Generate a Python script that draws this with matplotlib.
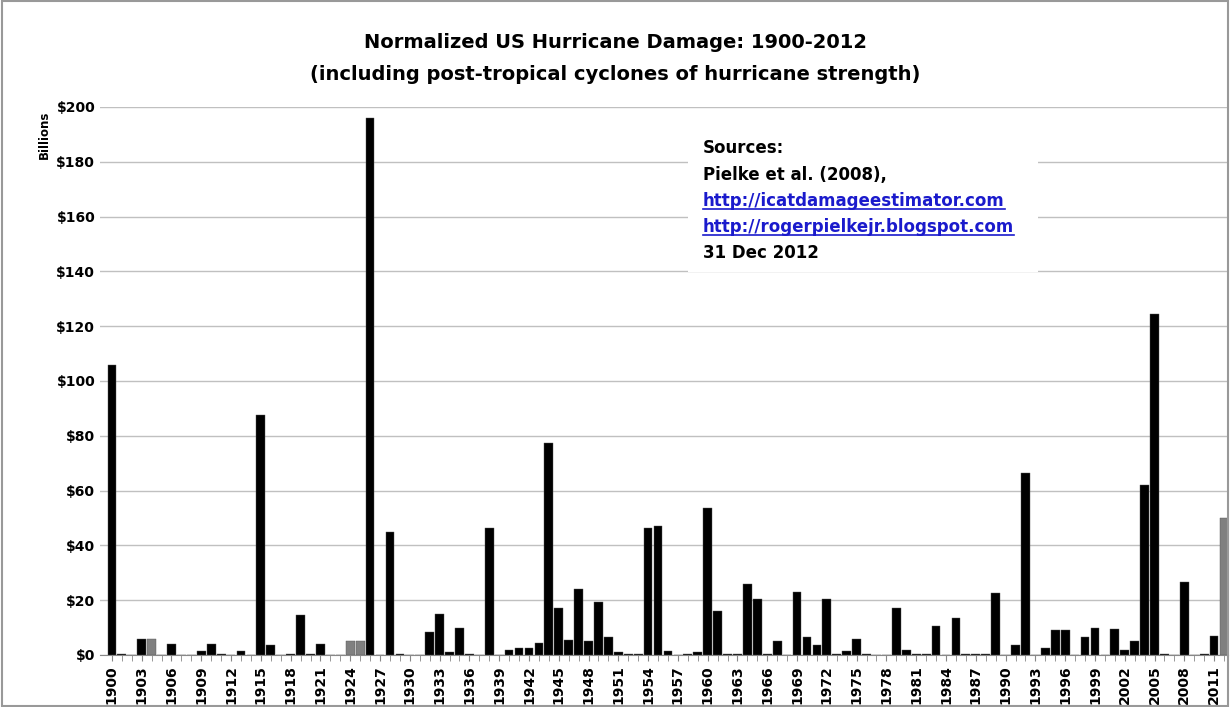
import matplotlib
matplotlib.use("Agg")
import matplotlib.pyplot as plt
import numpy as np

years = list(range(1900, 2013))
damage = [106, 0.5, 0, 6, 5.7, 0, 4, 0, 0, 1.5,
          4, 0.3, 0, 1.5, 0, 87.5, 3.5, 0, 0.5, 14.5,
          0.5, 4, 0, 0, 5, 5, 196, 0, 45, 0.3,
          0, 0, 8.5, 15, 1, 10, 0.5, 0, 46.5, 0,
          2, 2.5, 2.5, 4.5, 77.5, 17, 5.5, 24, 5, 19.5,
          6.5, 1, 0.2, 0.2, 46.5, 47, 1.5, 0, 0.5, 1,
          53.5, 16, 0.2, 0.2, 26, 20.5, 0.5, 5, 0, 23,
          6.5, 3.5, 20.5, 0.3, 1.5, 6, 0.3, 0, 0, 17,
          2, 0.2, 0.2, 10.5, 0, 13.5, 0.2, 0.2, 0.2, 22.5,
          0, 3.5, 66.5, 0, 2.7, 9, 9.2, 0, 6.5, 10,
          0, 9.5, 2, 5, 62, 124.5, 0.3, 0, 26.5, 0,
          0.3, 7, 50]
gray_years = [1904, 1924, 1925, 2012]
yticks = list(range(0, 201, 20))

colors = ['#808080' if y in gray_years else 'black' for y in years]
fig = plt.figure(figsize=(12.3, 7.07), dpi=100)
fig.patches.append(plt.Rectangle((0.002, 0.002), 0.996, 0.996, transform=fig.transFigure,
                                 fill=False, edgecolor='#999999', lw=1.5))
ax = fig.add_axes([100/1230, 52/707, 1128/1230, 548/707])
x = np.arange(len(years))
ax.bar(x, damage, width=0.88, color=colors, edgecolor='#555555', linewidth=0.3, zorder=3)
ax.set_xlim(-1.2, len(years) - 0.6)
ax.set_ylim(0, 200)
ax.set_yticks(yticks)
ax.set_yticklabels([f"${v}" for v in yticks], fontsize=10, fontweight='bold')
ax.set_xticks(x[::3])
ax.set_xticks(x, minor=True)
ax.set_xticklabels([str(y) for y in years[::3]], rotation=90, fontsize=10, fontweight='bold')
ax.tick_params(axis='x', which='both', length=4, color='#888888')
ax.tick_params(axis='y', length=0)
ax.grid(axis='y', color='#c0c0c0', lw=1, zorder=0)
for s in ['top', 'right', 'left']:
    ax.spines[s].set_visible(False)
ax.spines['bottom'].set_color('#888888')
fig.text(44/1230, 1 - 135/707, "Billions", rotation=90, fontsize=8.5, fontweight='bold', ha='center', va='center')
fig.text(0.5, 1 - 42/707, "Normalized US Hurricane Damage: 1900-2012", fontsize=14, fontweight='bold', ha='center', va='center')
fig.text(0.5, 1 - 74/707, "(including post-tropical cyclones of hurricane strength)", fontsize=14, fontweight='bold', ha='center', va='center')
fig.patches.append(plt.Rectangle((688/1230, 1 - 272/707), 350/1230, 145/707, transform=fig.transFigure,
                                 facecolor='white', edgecolor='none', zorder=5))
lines = [("Sources:", 'black', False, 148), ("Pielke et al. (2008),", 'black', False, 175),
         ("http://icatdamageestimator.com", '#1a1acc', True, 201),
         ("http://rogerpielkejr.blogspot.com", '#1a1acc', True, 227),
         ("31 Dec 2012", 'black', False, 253)]
for t, c, u, yp in lines:
    txt = fig.text(703/1230, 1 - yp/707, t, fontsize=12, fontweight='bold', color=c, va='center', zorder=6)
    if u:
        fig.canvas.draw()
        bb = txt.get_window_extent()
        fig.add_artist(plt.Line2D([bb.x0/1230, bb.x1/1230], [bb.y0/707 + 0.002]*2, color=c, lw=1.2, transform=fig.transFigure, zorder=6))
fig.savefig("out.png", dpi=100)
